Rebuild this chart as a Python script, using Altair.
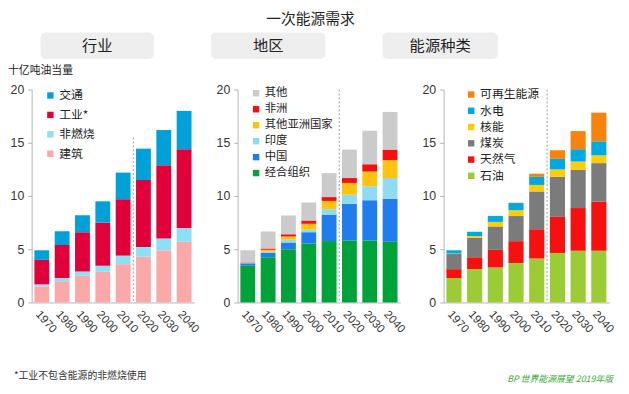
import altair as alt
import pandas as pd

years = ['1970', '1980', '1990', '2000', '2010', '2020', '2030', '2040']

# Panel 1: 行业 (bottom -> top)
sector_names = ['建筑', '非燃烧', '工业*', '交通']
buildings = [1.5, 2.0, 2.5, 2.9, 3.6, 4.3, 4.9, 5.7]
non_combusted = [0.2, 0.3, 0.4, 0.55, 0.8, 0.9, 1.1, 1.3]
industry = [2.3, 3.1, 3.7, 4.05, 5.3, 6.3, 6.9, 7.4]
transport = [0.9, 1.3, 1.6, 2.0, 2.5, 2.95, 3.3, 3.6]
sector_colors = ['#fba9a8', '#8de0f4', '#e2003b', '#00a0d8']

# Panel 2: 地区 (bottom -> top)
region_names = ['经合组织', '中国', '印度', '其他亚洲国家', '非洲', '其他']
oecd = [3.45, 4.25, 5.0, 5.55, 5.77, 5.83, 5.83, 5.7]
china = [0.23, 0.4, 0.64, 1.05, 2.48, 3.43, 3.77, 4.05]
india = [0.05, 0.12, 0.26, 0.24, 0.52, 0.86, 1.32, 1.94]
other_asia = [0.05, 0.19, 0.3, 0.55, 0.77, 1.11, 1.38, 1.68]
africa = [0.03, 0.1, 0.21, 0.31, 0.36, 0.46, 0.68, 0.99]
other_region = [1.09, 1.6, 1.75, 1.69, 2.25, 2.67, 3.15, 3.54]
region_colors = ['#00a23a', '#1f7ded', '#8ddcf2', '#ffc20e', '#f50f0f', '#cbcbcb']

# Panel 3: 能源种类 (bottom -> top)
fuel_names = ['石油', '天然气', '煤炭', '核能', '水电', '可再生能源']
oil = [2.3, 3.14, 3.29, 3.71, 4.13, 4.65, 4.86, 4.86]
gas = [0.83, 1.1, 1.65, 2.05, 2.75, 3.39, 4.01, 4.62]
coal = [1.44, 1.83, 2.2, 2.36, 3.55, 3.76, 3.61, 3.61]
nuclear = [0.03, 0.18, 0.43, 0.55, 0.61, 0.7, 0.76, 0.73]
hydro = [0.3, 0.4, 0.55, 0.67, 0.76, 0.99, 1.16, 1.32]
renewables = [0.0, 0.0, 0.02, 0.03, 0.3, 0.81, 1.7, 2.69]
fuel_colors = ['#9bcb35', '#f80f0f', '#7b7b7b', '#ffcd05', '#00a9e0', '#f7820c']

CJK = 'Noto Sans CJK SC'
LAT = 'Liberation Sans'
PLOT_H = 216


def make_df(names, series):
    rows = []
    for k, (n, vals) in enumerate(zip(names, series)):
        for y, v in zip(years, vals):
            rows.append({'year': y, 'cat': n, 'value': v, 'ord': k})
    return pd.DataFrame(rows)


def panel(names, series, colors, width, leg_x, leg_y, row_pad, leg_font, rule_top,
          header, hx1, hx2, extras):
    df = make_df(names, series)
    legend_domain = list(reversed(names))
    legend_range = list(reversed(colors))
    xscale = alt.Scale(domain=years, paddingInner=0.27, paddingOuter=0.135)
    yscale = alt.Scale(domain=[0, 20], nice=False)
    step = width / 8.0
    bars = alt.Chart(df).mark_bar(strokeWidth=0).encode(
        x=alt.X('year:N', scale=xscale, sort=years,
                axis=alt.Axis(title=None, ticks=False, labelAngle=48,
                              labelAlign='left', labelBaseline='top',
                              labelPadding=6, labelFontSize=11.5,
                              labelFont=LAT, labelColor='#333',
                              domainColor='#b5b5b5')),
        y=alt.Y('sum(value):Q', scale=yscale, stack='zero',
                axis=alt.Axis(title=None, values=[0, 5, 10, 15, 20], grid=False,
                              tickSize=4, tickColor='#b5b5b5',
                              domainColor='#b5b5b5', labelFontSize=12.5,
                              labelFont=LAT, labelColor='#333', labelPadding=4)),
        color=alt.Color('cat:N', scale=alt.Scale(domain=legend_domain, range=legend_range),
                        legend=alt.Legend(orient='none', legendX=leg_x, legendY=leg_y,
                                          title=None, symbolType='square',
                                          symbolSize=42, symbolStrokeWidth=0,
                                          labelFontSize=leg_font, labelFont=CJK,
                                          labelColor='#222', rowPadding=row_pad,
                                          padding=0, labelOffset=3)),
        order=alt.Order('ord:Q', sort='ascending'),
    )
    rule_df = pd.DataFrame({'year': ['2020'], 'top': [rule_top], 'bottom': [0.0]})
    rule = alt.Chart(rule_df).mark_rule(color='#9a9a9a', strokeDash=[2, 2],
                                        strokeWidth=1,
                                        xOffset=-step * 0.27 / 2).encode(
        x=alt.X('year:N', scale=xscale, sort=years, bandPosition=0),
        y=alt.Y('top:Q', scale=yscale),
        y2='bottom:Q',
    )
    hdr_df = pd.DataFrame({'label': [header]})
    box = alt.Chart(hdr_df).mark_rect(color='#eeeeee', cornerRadius=5).encode(
        x=alt.value(hx1), x2=alt.value(hx2),
        y=alt.value(-58), y2=alt.value(-31),
    )
    htext = alt.Chart(hdr_df).mark_text(font=CJK, fontSize=15.5, color='#222',
                                        align='center', baseline='middle').encode(
        x=alt.value((hx1 + hx2) / 2), y=alt.value(-44.5), text='label:N',
    )
    layers = [box, htext, bars, rule] + extras
    return alt.layer(*layers).properties(width=width, height=PLOT_H)


unit_df = pd.DataFrame({'t': ['十亿吨油当量']})
unit_text = alt.Chart(unit_df).mark_text(font=CJK, fontSize=11, color='#222',
                                         align='left', baseline='middle').encode(
    x=alt.value(-24), y=alt.value(-19), text='t:N')
foot_df = pd.DataFrame({'t': ['*工业不包含能源的非燃烧使用']})
foot_text = alt.Chart(foot_df).mark_text(font=CJK, fontSize=10, color='#333',
                                         align='left', baseline='middle').encode(
    x=alt.value(-18), y=alt.value(291), text='t:N')

title_df = pd.DataFrame({'t': ['一次能源需求']})
title_text = alt.Chart(title_df).mark_text(font=CJK, fontSize=15, color='#222',
                                           align='center', baseline='middle').encode(
    x=alt.value(74), y=alt.value(-72), text='t:N')

bp_df = pd.DataFrame({'t': ['BP 世界能源展望 2019年版']})
bp_text = alt.Chart(bp_df).mark_text(font=CJK, fontSize=9, color='#3aaa35',
                                     fontStyle='italic', align='right',
                                     baseline='middle').encode(
    x=alt.value(172), y=alt.value(294), text='t:N')

p1 = panel(sector_names, [buildings, non_combusted, industry, transport],
           sector_colors, 165, 13, 0, 7.7, 12, 15.5, '行业', 9, 124,
           [unit_text, foot_text])
p2 = panel(region_names, [oecd, china, india, other_asia, africa, other_region],
           region_colors, 165, 13, -2, 3.2, 11.5, 20, '地区', -27, 89,
           [title_text])
p3 = panel(fuel_names, [oil, gas, coal, nuclear, hydro, renewables],
           fuel_colors, 168, 22, -1, 4.5, 12, 20, '能源种类', -62, 55,
           [bp_text])

chart = alt.hconcat(p1, p2, p3, spacing=44, bounds='flush').resolve_scale(
    color='independent', x='independent', y='independent'
).properties(
    padding={'left': 0, 'top': 1, 'right': 5, 'bottom': 0},
    background='white',
).configure_view(stroke=None)

chart.save('out.html', embed_options={'renderer': 'svg', 'actions': False})
